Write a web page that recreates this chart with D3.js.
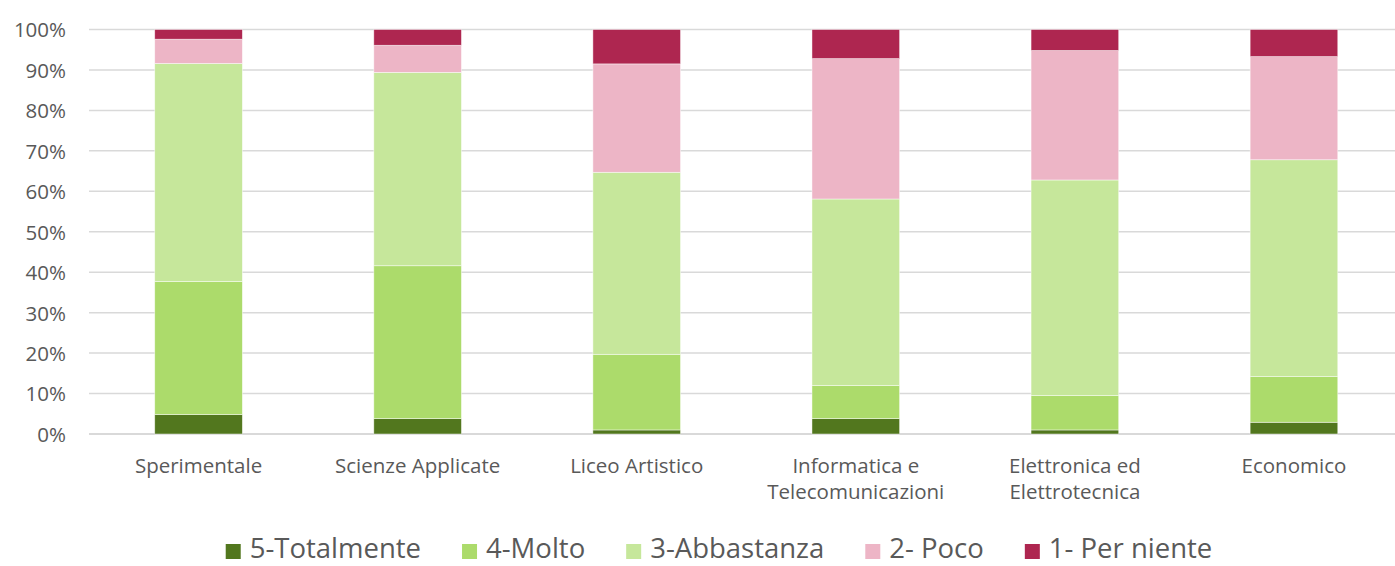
<!DOCTYPE html>
<html>
<head>
<meta charset="utf-8">
<script src="https://cdn.jsdelivr.net/npm/d3@7"></script>
<style>
  html, body { margin: 0; padding: 0; background: #fff; }
  svg { display: block; font-family: "Open Sans", sans-serif; }
</style>
</head>
<body>
<svg id="chart" width="1395" height="566"></svg>
<script>
// School tracks (x-axis categories); "\n" marks a line break in the label
const categories = [
  "Sperimentale",
  "Scienze Applicate",
  "Liceo Artistico",
  "Informatica e\nTelecomunicazioni",
  "Elettronica ed\nElettrotecnica",
  "Economico"
];

// Answer levels, bottom to top of each stack
const seriesNames = ["5-Totalmente", "4-Molto", "3-Abbastanza", "2- Poco", "1- Per niente"];
const seriesColors = ["#52771e", "#acdb6b", "#c6e79b", "#edb5c6", "#ae2650"];

// Share of answers (%) per level, one value per category
const totalmente = [4.8, 3.8, 1.0, 3.8, 1.0, 2.9];
const molto      = [32.9, 37.8, 18.7, 8.2, 8.5, 11.3];
const abbastanza = [53.9, 47.8, 45.0, 46.1, 53.3, 53.6];
const poco       = [6.0, 6.7, 26.8, 34.7, 32.0, 25.5];
const perNiente  = [2.4, 3.9, 8.5, 7.2, 5.2, 6.7];

const yTicks = [0, 10, 20, 30, 40, 50, 60, 70, 80, 90, 100];

const seriesValues = [totalmente, molto, abbastanza, poco, perNiente];
const rows = categories.map((c, i) => {
  const r = { category: c };
  seriesNames.forEach((s, k) => { r[s] = seriesValues[k][i]; });
  return r;
});

const svg = d3.select("#chart");
const textColor = "#595959";
const gridColor = "#d9d9d9";

const x = d3.scaleBand()
  .domain(categories)
  .range([89, 1403.5])
  .paddingInner(0.6)
  .paddingOuter(0.3);

const y = d3.scaleLinear().domain([0, 100]).range([434, 29.5]);

// Horizontal gridlines
svg.append("g")
  .selectAll("line")
  .data(yTicks)
  .join("line")
  .attr("x1", 89)
  .attr("x2", 1395)
  .attr("y1", d => y(d))
  .attr("y2", d => y(d))
  .attr("stroke", gridColor)
  .attr("stroke-width", d => d === 0 ? 2 : 1.5);

// Y axis labels
const yAxis = d3.axisLeft(y)
  .tickValues(yTicks)
  .tickFormat(d => d + "%")
  .tickSize(0)
  .tickPadding(0);
const yg = svg.append("g").attr("transform", "translate(66,0)").call(yAxis);
yg.select(".domain").remove();
yg.selectAll("text")
  .attr("fill", textColor)
  .style("font-family", "'Open Sans', sans-serif")
  .style("font-size", "20.5px")
  .attr("dy", "0.36em");

// Stacked bars
const stack = d3.stack().keys(seriesNames);
const layers = stack(rows);

svg.append("g")
  .selectAll("g")
  .data(layers)
  .join("g")
  .attr("fill", (d, i) => seriesColors[i])
  .selectAll("rect")
  .data(d => d)
  .join("rect")
  .attr("x", d => x(d.data.category))
  .attr("width", x.bandwidth())
  .attr("y", d => y(d[1]))
  .attr("height", d => y(d[0]) - y(d[1]))
  .attr("stroke", "#ffffff")
  .attr("stroke-opacity", 0.6)
  .attr("stroke-width", 0.75);

// Category labels (x axis), multi-line where needed
const xg = svg.append("g");
categories.forEach(c => {
  const lines = c.split("\n");
  const t = xg.append("text")
    .attr("x", x(c) + x.bandwidth() / 2)
    .attr("y", 473)
    .attr("text-anchor", "middle")
    .attr("fill", textColor)
    .style("font-size", "20.5px");
  lines.forEach((ln, i) => {
    t.append("tspan")
      .attr("x", x(c) + x.bandwidth() / 2)
      .attr("dy", i === 0 ? 0 : 26)
      .text(ln);
  });
});

// Legend, laid out from measured label widths and centred
const legend = svg.append("g");
const sw = 15, gapText = 9, gapItem = 41;
const items = seriesNames.map((s, i) => {
  const g = legend.append("g");
  g.append("rect").attr("width", sw).attr("height", sw).attr("y", -14).attr("fill", seriesColors[i]);
  const t = g.append("text")
    .attr("x", sw + gapText)
    .attr("fill", textColor)
    .style("font-size", "27.5px")
    .text(s);
  return { g, w: sw + gapText + t.node().getComputedTextLength() };
});
const totalW = d3.sum(items, d => d.w) + gapItem * (items.length - 1);
let cx = 719 - totalW / 2;
items.forEach(it => {
  // text baseline
  it.g.attr("transform", `translate(${cx},558)`);
  cx += it.w + gapItem;
});
</script>
</body>
</html>
